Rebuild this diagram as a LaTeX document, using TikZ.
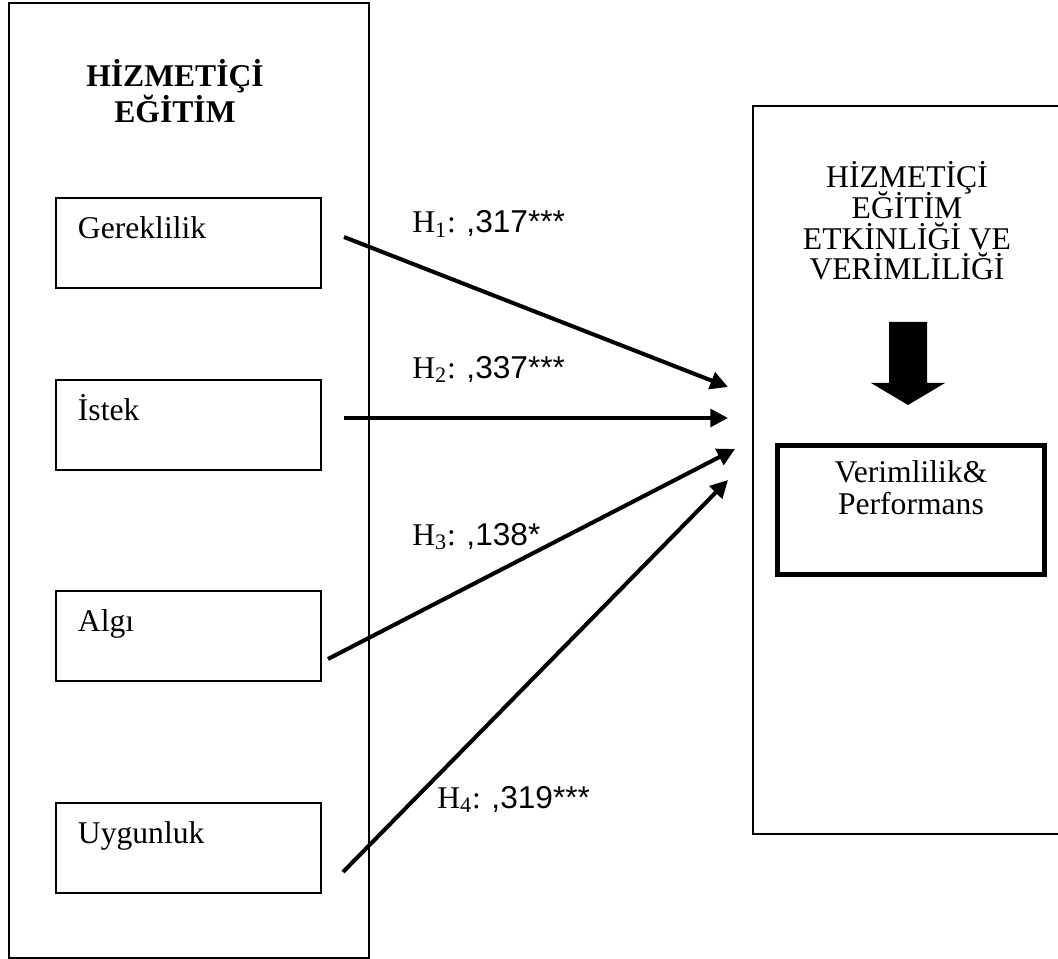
\documentclass[tikz,border=0pt]{standalone}
\usepackage{fontspec}
\setmainfont{Liberation Serif}
\newfontfamily\arialfont{Liberation Sans}
\usetikzlibrary{positioning, arrows.meta, calc}

\begin{document}
\begin{tikzpicture}[x=0.02cm, y=-0.02cm]
	\tikzset{
		outer box/.style={draw, line width=1.2pt, anchor=north west, inner sep=0pt},
		item box/.style={draw, line width=1.1pt, anchor=north west, inner xsep=0.44cm, inner ysep=0pt,
			text width=4.42cm, text height=0.82cm, text depth=0.98cm, align=left, font=\fontsize{18}{21}\selectfont},
		with arrow/.style={line width=2.3pt, -{Triangle[length=10pt, width=10pt]}},
		hlabel/.style={anchor=base west, inner sep=0pt, font=\fontsize{18}{21}\selectfont}
	}
	\useasboundingbox (0,0) rectangle (1058,959);
	
	% sol kutu
	\node[outer box, minimum width=7.2cm, minimum height=19.1cm] (egitim) at (8,2) {};
	\node[anchor=base, align=center, inner sep=0pt, font=\bfseries\fontsize{18}{21}\selectfont] (baslik) at (175,123) {HİZMETİÇİ\\EĞİTİM};
	\foreach \name/\txt/\y in {gerek/Gereklilik/197, istek/İstek/379, algi/Algı/590, uygun/Uygunluk/802} {
		\node[item box] (\name) at (55,\y) {\txt};
	}
	
	% sag kutu
	\node[outer box, line width=1.4pt, minimum width=6.2cm, minimum height=14.56cm] (etkinlik) at (752,105) {};
	\node[anchor=base, align=center, inner sep=0pt, font={\fontsize{18}{17.5}\selectfont\lineskiplimit=-20pt}] (etkbaslik) at (907,280) {HİZMETİÇİ\\EĞİTİM\\ETKİNLİĞİ VE\\VERİMLİLİĞİ};
	\node[draw, line width=2.8pt, anchor=north west, inner sep=0pt, text width=5.34cm, text height=0.74cm, text depth=1.84cm,
		align=center, font=\fontsize{18}{18}\selectfont] (verim) at (775,443) {Verimlilik\&\\Performans};
	\fill (889,322) -- (927,322) -- (927,383) -- (945,383) -- (908,405) -- (871,383) -- (889,383) -- cycle;
	
	% hipotez oklari
	\coordinate (s1) at (344,237); \coordinate (t1) at (728,387);
	\coordinate (s2) at (344,418); \coordinate (t2) at (728,418);
	\coordinate (s3) at (328,659); \coordinate (t3) at (735,449);
	\coordinate (s4) at (343,872); \coordinate (t4) at (728,480);
	\draw[with arrow] (s1) -- (t1);
	\draw[with arrow] (s2) -- (t2);
	\draw[with arrow] (s3) -- (t3);
	\draw[with arrow] (s4) -- (t4);
	
	\node[hlabel] (h1) at (412,233) {H\textsubscript{1}: {\arialfont ,317***}};
	\node[hlabel] (h2) at (412,378) {H\textsubscript{2}: {\arialfont ,337***}};
	\node[hlabel] (h3) at (412,545) {H\textsubscript{3}: {\arialfont ,138*}};
	\node[hlabel] (h4) at (437,808) {H\textsubscript{4}: {\arialfont ,319***}};
\end{tikzpicture}
\end{document}
